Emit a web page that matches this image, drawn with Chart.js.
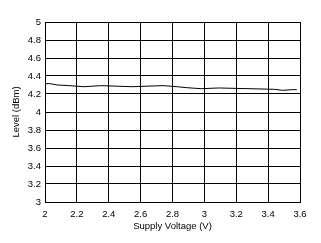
<!DOCTYPE html>
<html>
<head>
<meta charset="utf-8">
<script src="https://cdn.jsdelivr.net/npm/chart.js@4/dist/chart.umd.min.js"></script>
<style>
  html, body { margin: 0; padding: 0; background: #fff; }
  #wrap { width: 321px; height: 243px; }
</style>
</head>
<body>
<div id="wrap"><canvas id="chart" width="321" height="243"></canvas></div>
<script>
// values
const voltage = [2.00, 2.03, 2.08, 2.15, 2.245, 2.35, 2.545, 2.74, 2.83, 2.89, 2.98, 3.09, 3.28, 3.44, 3.49, 3.55, 3.58];
const level   = [4.315, 4.315, 4.300, 4.293, 4.281, 4.293, 4.281, 4.293, 4.281, 4.270, 4.259, 4.267, 4.259, 4.252, 4.241, 4.248, 4.248];
const xTicks = ['2', '2.2', '2.4', '2.6', '2.8', '3', '3.2', '3.4', '3.6'];
const yTicks = ['3', '3.2', '3.4', '3.6', '3.8', '4', '4.2', '4.4', '4.6', '4.8', '5'];

const font = { family: 'Arial, "Liberation Sans", sans-serif', size: 9.5 };

new Chart(document.getElementById('chart').getContext('2d'), {
  type: 'line',
  data: {
    datasets: [{
      data: voltage.map((v, i) => ({ x: v, y: level[i] })),
      borderColor: '#000',
      borderWidth: 1,
      pointRadius: 0,
      tension: 0,
      fill: false
    }]
  },
  options: {
    responsive: false,
    animation: false,
    layout: { padding: { left: 0, right: 21, top: 22, bottom: 0 } },
    plugins: { legend: { display: false }, tooltip: { enabled: false } },
    scales: {
      x: {
        type: 'linear',
        min: 2, max: 3.6,
        afterFit: s => { s.height = 41; },
        grid: { color: '#000', lineWidth: 1, drawTicks: false },
        border: { color: '#000', width: 1 },
        ticks: {
          stepSize: 0.2, padding: 7, color: '#000', font: font, maxRotation: 0,
          callback: (v, i) => xTicks[i]
        },
        title: { display: true, text: 'Supply Voltage (V)', color: '#000', font: font, padding: { top: 0, bottom: 11 } }
      },
      y: {
        min: 3, max: 5,
        afterFit: s => { s.width = 45; },
        grid: { color: '#000', lineWidth: 1, drawTicks: false },
        border: { color: '#000', width: 1 },
        ticks: {
          stepSize: 0.2, padding: 4, color: '#000', font: font,
          callback: (v, i) => yTicks[i]
        },
        title: { display: true, text: 'Level (dBm)', color: '#000', font: font, padding: { top: 11, bottom: 0 } }
      }
    }
  }
});
</script>
</body>
</html>
